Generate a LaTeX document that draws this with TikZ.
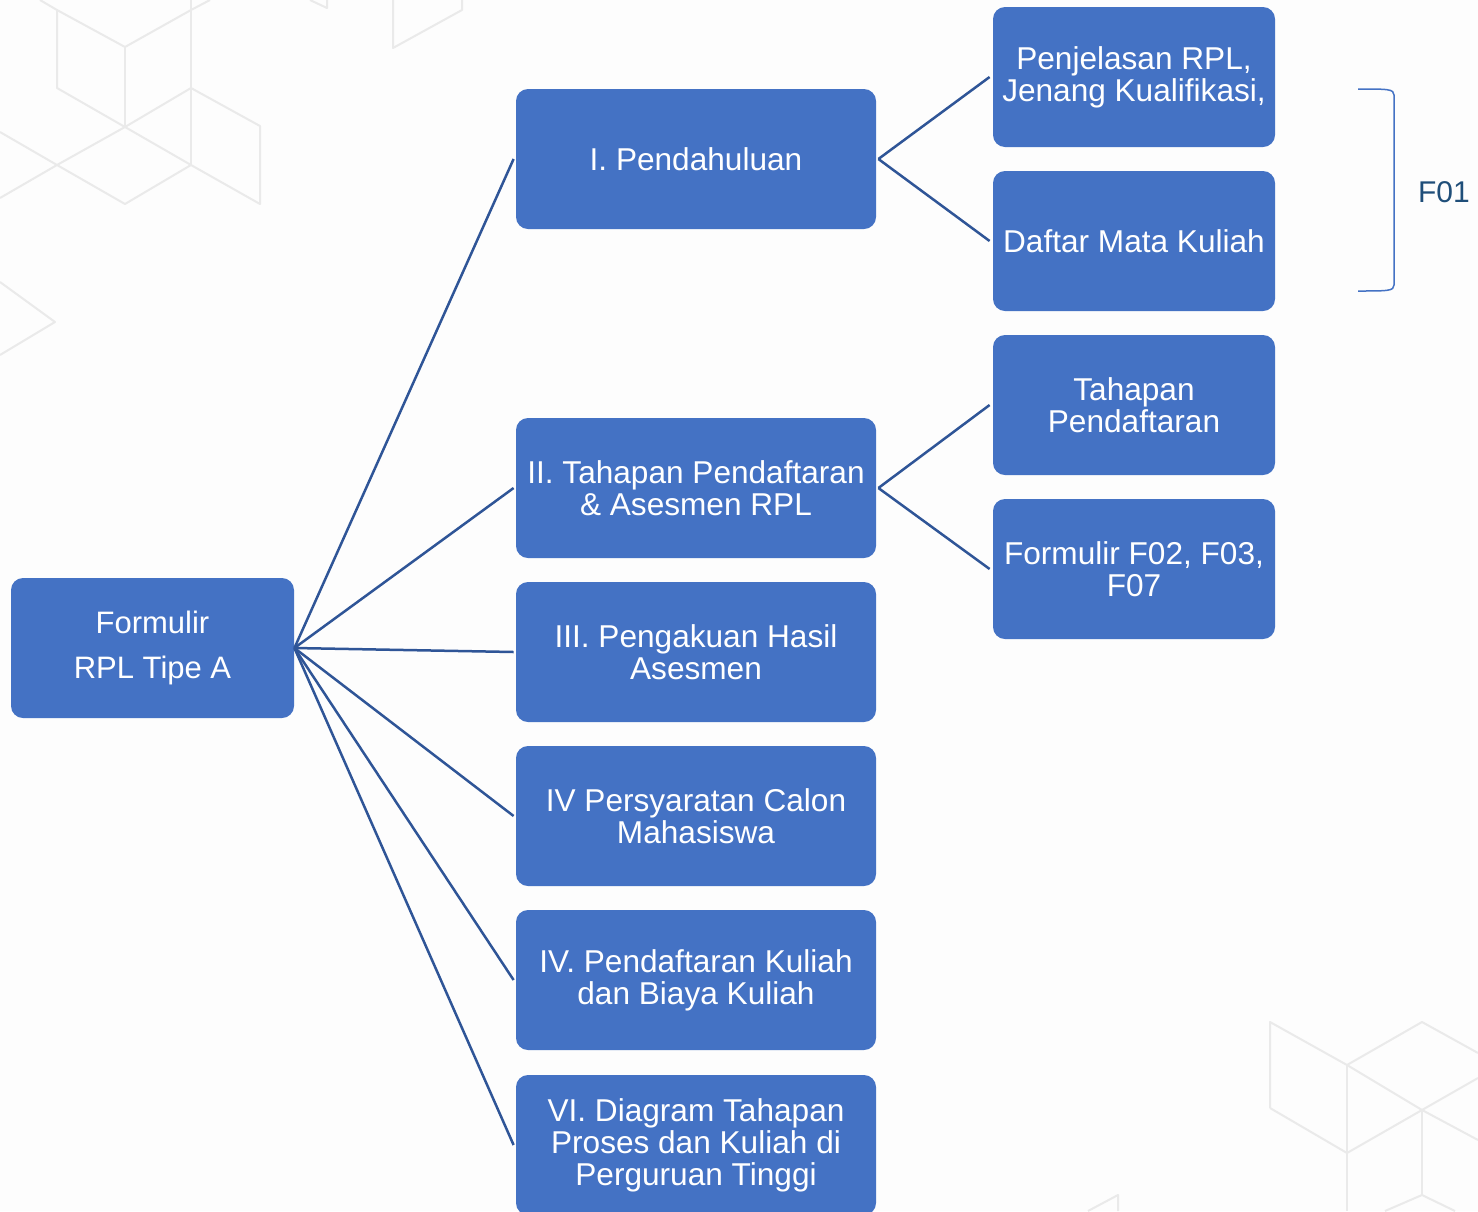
\documentclass[tikz,border=0pt]{standalone}
\usepackage{fontspec}
\setmainfont{Liberation Sans}
\definecolor{boxblue}{HTML}{4472C4}
\definecolor{linkblue}{HTML}{2F5597}
\definecolor{darkblue}{HTML}{1F4E79}
\definecolor{bggray}{HTML}{FDFDFD}
\definecolor{cubegray}{HTML}{EAEAEA}
\begin{document}
\begin{tikzpicture}[x=0.5pt,y=-0.5pt,
  box/.style={fill=boxblue, rounded corners=6pt, inner sep=0pt, text=white, align=center,
    font=\fontsize{15.8}{16}\selectfont},
  midbox/.style={box, minimum width=180pt, minimum height=70pt},
  rightbox/.style={box, minimum width=141pt, minimum height=70pt},
  link/.style={draw=linkblue, line width=1.25pt},
  cube/.style={draw=cubegray, line width=1pt, line join=round}]
\useasboundingbox (0,0) rectangle (1478,1211);
\clip (0,0) rectangle (1478,1211);
\fill[bggray] (0,0) rectangle (1478,1211);
% background cube pattern (top left)
\draw[cube] (40,0) -- (57,10) -- (57,88) -- (125,127) -- (191,88) -- (260,126) -- (260,204) -- (191,165) -- (125,204) -- (57,165) -- (0,198);
\draw[cube] (57,10) -- (125,47) -- (191,10) -- (210,0);
\draw[cube] (125,47) -- (125,127);
\draw[cube] (191,0) -- (191,165);
\draw[cube] (125,127) -- (191,165);
\draw[cube] (0,132) -- (57,165) -- (125,127);
\draw[cube] (310,0) -- (327,8) -- (327,0);
\draw[cube] (393,0) -- (393,48) -- (462,10) -- (462,0);
\draw[cube] (0,282) -- (55,322) -- (0,355);
% background cube pattern (bottom right)
\draw[cube] (1270,1108) -- (1270,1022) -- (1347,1065) -- (1422,1022) -- (1478,1053);
\draw[cube] (1347,1065) -- (1347,1211);
\draw[cube] (1270,1108) -- (1347,1153) -- (1422,1110) -- (1478,1078);
\draw[cube] (1347,1065) -- (1422,1110) -- (1478,1140);
\draw[cube] (1422,1110) -- (1422,1195);
\draw[cube] (1385,1211) -- (1422,1195) -- (1455,1211);
\draw[cube] (1088,1211) -- (1118,1195) -- (1118,1211);
% nodes
\node[box, minimum width=141.5pt, minimum height=70pt, font=\fontsize{15.5}{22.5}\selectfont] (root) at (152.5,648) {Formulir\\RPL Tipe A};
\node[midbox] (m1) at (696,159) {I. Pendahuluan};
\node[midbox] (m2) at (696,488) {II. Tahapan Pendaftaran\\\& Asesmen RPL};
\node[midbox] (m3) at (696,652) {III. Pengakuan Hasil\\Asesmen};
\node[midbox] (m4) at (696,816) {IV Persyaratan Calon\\Mahasiswa};
\node[midbox] (m5) at (696,980) {IV. Pendaftaran Kuliah\\dan Biaya Kuliah};
\node[midbox] (m6) at (696,1145) {VI. Diagram Tahapan\\Proses dan Kuliah di\\Perguruan Tinggi};
\node[rightbox] (r1) at (1134,77) {Penjelasan RPL,\\Jenang Kualifikasi,};
\node[rightbox] (r2) at (1134,241) {Daftar Mata Kuliah};
\node[rightbox] (r3) at (1134,405) {Tahapan\\Pendaftaran};
\node[rightbox] (r4) at (1134,569) {Formulir F02, F03,\\F07};
% connectors
\foreach \m in {m1,m2,m3,m4,m5,m6} \draw[link] (root.east) -- ([xshift=-1pt]\m.west);
\draw[link] ([xshift=1pt]m1.east) -- ([xshift=-1.5pt]r1.west);
\draw[link] ([xshift=1pt]m1.east) -- ([xshift=-1.5pt]r2.west);
\draw[link] ([xshift=1pt]m2.east) -- ([xshift=-1.5pt]r3.west);
\draw[link] ([xshift=1pt]m2.east) -- ([xshift=-1.5pt]r4.west);
% bracket and label
\coordinate (bt) at (1358,89);
\coordinate (bb) at (1358,291);
\draw[boxblue, line width=0.75pt] (bt) .. controls (1388,89) and (1394,89) .. (1394,95) -- (1394,285) .. controls (1394,291) and (1388,291) .. (bb);
\node[text=darkblue, font=\fontsize{15}{16}\selectfont, inner sep=0pt] (f01) at (1444,192) {F01};
\end{tikzpicture}
\end{document}
